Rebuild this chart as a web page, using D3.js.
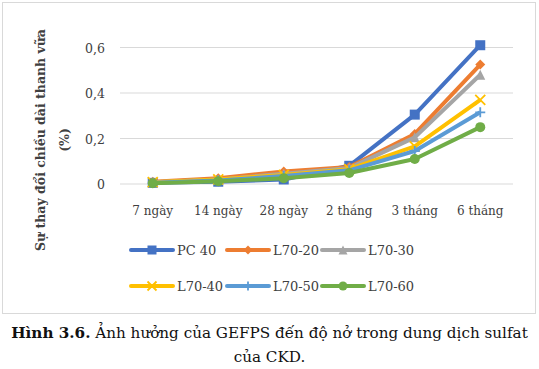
<!DOCTYPE html>
<html><head><meta charset="utf-8">
<script src="https://cdn.jsdelivr.net/npm/d3@7"></script>
<style>body{margin:0;background:#fff}svg{display:block}</style>
</head><body>
<svg id="c" width="539" height="369"></svg>
<script>
const categories = ["7 ngày","14 ngày","28 ngày","2 tháng","3 tháng","6 tháng"];
const seriesNames = ["PC 40","L70-20","L70-30","L70-40","L70-50","L70-60"];
const pc40  = [0.005, 0.010, 0.020, 0.080, 0.305, 0.610];
const l7020 = [0.010, 0.025, 0.055, 0.075, 0.220, 0.525];
const l7030 = [0.008, 0.020, 0.045, 0.070, 0.205, 0.480];
const l7040 = [0.008, 0.020, 0.040, 0.065, 0.165, 0.370];
const l7050 = [0.006, 0.015, 0.035, 0.060, 0.145, 0.315];
const l7060 = [0.003, 0.012, 0.025, 0.048, 0.110, 0.250];
const yTicks = [0, 0.2, 0.4, 0.6];
const colors = ["#4472C4","#ED7D31","#A5A5A5","#FFC000","#5B9BD5","#70AD47"];
const markers = ["square","diamond","triangle","x","plus","circle"];
const seriesValues = [pc40, l7020, l7030, l7040, l7050, l7060];

const svg = d3.select("#c");
const font = "DejaVu Serif";
svg.append("rect").attr("x",2.5).attr("y",2.5).attr("width",533).attr("height",311)
  .attr("fill","#fff").attr("stroke","#d9d9d9");

const x = d3.scaleBand().domain(categories).range([120,513]);
const y = d3.scaleLinear().domain([0,0.6]).range([184,47.5]);

const g = svg.append("g");
g.selectAll(".grid").data(yTicks).join("line")
  .attr("x1",120).attr("x2",513).attr("y1",d=>y(d)).attr("y2",d=>y(d))
  .attr("stroke","#d9d9d9").attr("stroke-width",1);

const fmt = d => d===0 ? "0" : d3.format(".1f")(d).replace(".",",");
g.selectAll(".yt").data(yTicks).join("text")
  .attr("x",105).attr("y",d=>y(d)+5).attr("text-anchor","end")
  .attr("font-family",font).attr("font-size",12.5).attr("fill","#404040").text(fmt);

g.selectAll(".xt").data(categories).join("text")
  .attr("x",d=>x(d)+x.bandwidth()/2).attr("y",215).attr("text-anchor","middle")
  .attr("font-family",font).attr("font-size",12).attr("fill","#404040").text(d=>d);

const yt = svg.append("text").attr("transform","translate(45,140) rotate(-90)")
  .attr("text-anchor","middle").attr("font-family",font).attr("font-size",12.5)
  .attr("font-weight","bold").attr("fill","#404040");
yt.append("tspan").attr("x",0).attr("dy",0).text("Sự thay đổi chiều dài thanh vữa");
yt.append("tspan").attr("x",0).attr("dy",24).text("(%)");

const line = d3.line().x((d,i)=>x(categories[i])+x.bandwidth()/2).y(d=>y(d));

function drawMarker(sel, type, color, size){
  const s = size;
  if(type==="square") sel.append("rect").attr("x",-s/2).attr("y",-s/2).attr("width",s).attr("height",s).attr("fill",color);
  else if(type==="circle") sel.append("circle").attr("r",s/2).attr("fill",color);
  else if(type==="diamond") sel.append("path").attr("d",`M0,${-s/2}L${s/2},0L0,${s/2}L${-s/2},0Z`).attr("fill",color);
  else if(type==="triangle") sel.append("path").attr("d",`M0,${-s/2}L${s/2},${s/2}L${-s/2},${s/2}Z`).attr("fill",color);
  else if(type==="x") sel.append("path").attr("d",`M${-s/2},${-s/2}L${s/2},${s/2}M${s/2},${-s/2}L${-s/2},${s/2}`).attr("stroke",color).attr("stroke-width",1.8);
  else if(type==="plus") sel.append("path").attr("d",`M0,${-s/2}L0,${s/2}M${-s/2},0L${s/2},0`).attr("stroke",color).attr("stroke-width",1.8);
}

seriesValues.forEach((vals,si)=>{
  g.append("path").datum(vals).attr("d",line).attr("fill","none")
    .attr("stroke",colors[si]).attr("stroke-width",4).attr("stroke-linejoin","round");
  vals.forEach((v,i)=>{
    const m = g.append("g").attr("transform",`translate(${x(categories[i])+x.bandwidth()/2},${y(v)})`);
    drawMarker(m, markers[si], colors[si], 10);
  });
});

// legend
const legPos = [[131,250],[227,250],[322,250],[131,286],[227,286],[322,286]];
seriesNames.forEach((n,si)=>{
  const [lx,ly] = legPos[si];
  const lg = svg.append("g").attr("transform",`translate(${lx},${ly})`);
  lg.append("line").attr("x1",0).attr("x2",42).attr("y1",0).attr("y2",0)
    .attr("stroke",colors[si]).attr("stroke-width",4).attr("stroke-linecap","round");
  const m = lg.append("g").attr("transform","translate(21,0)");
  drawMarker(m, markers[si], colors[si], 9);
  lg.append("text").attr("x",46).attr("y",5).attr("font-family",font).attr("font-size",13)
    .attr("fill","#404040").text(n);
});

// caption
const cap = svg.append("text").attr("x",269.5).attr("y",338).attr("text-anchor","middle")
  .attr("font-family",font).attr("font-size",15.2).attr("fill","#111");
cap.append("tspan").attr("font-weight","bold").text("Hình 3.6.");
cap.append("tspan").text(" Ảnh hưởng của GEFPS đến độ nở trong dung dịch sulfat");
svg.append("text").attr("x",269.5).attr("y",362).attr("text-anchor","middle")
  .attr("font-family",font).attr("font-size",15.2).attr("fill","#111").text("của CKD.");
</script>
</body></html>
